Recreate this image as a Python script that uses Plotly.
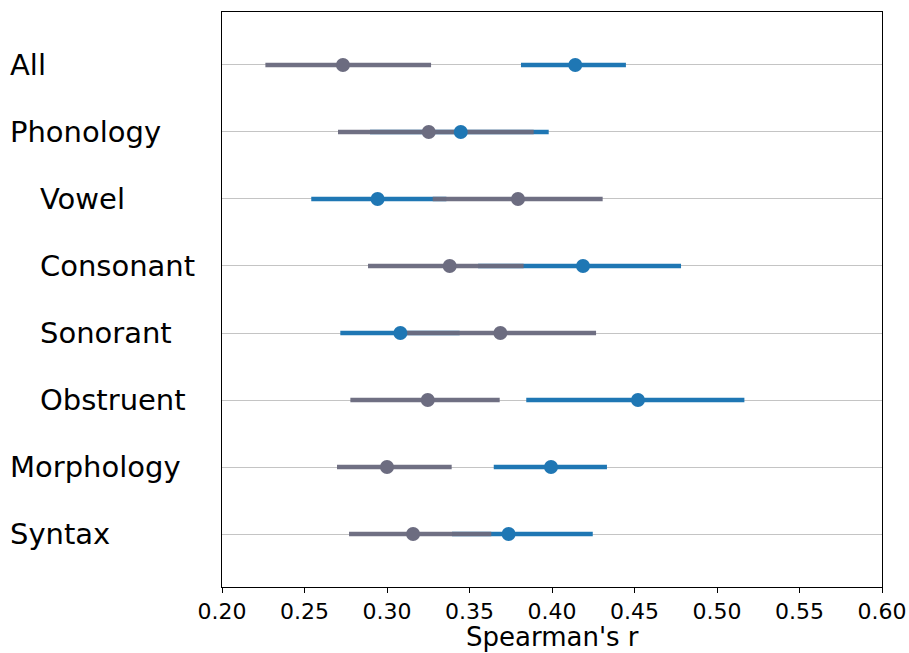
import plotly.graph_objects as go

categories = ["All", "Phonology", "Vowel", "Consonant", "Sonorant", "Obstruent", "Morphology", "Syntax"]
indent = [False, False, True, True, True, True, False, False]

gray_mean = [0.2733, 0.3253, 0.3794, 0.3380, 0.3687, 0.3247, 0.3000, 0.3158]
gray_lo = [0.2263, 0.2703, 0.3277, 0.2885, 0.3100, 0.2778, 0.2697, 0.2770]
gray_hi = [0.3267, 0.3889, 0.4307, 0.3828, 0.4267, 0.3683, 0.3392, 0.3632]

blue_mean = [0.4141, 0.3447, 0.2943, 0.4188, 0.3081, 0.4521, 0.3994, 0.3737]
blue_lo = [0.3812, 0.2897, 0.2541, 0.3552, 0.2717, 0.3844, 0.3647, 0.3394]
blue_hi = [0.4448, 0.3980, 0.3360, 0.4782, 0.3440, 0.5166, 0.4333, 0.4247]

x_ticks = [0.20, 0.25, 0.30, 0.35, 0.40, 0.45, 0.50, 0.55, 0.60]
x_title = "Spearman's r"

GRAY = "#6c6c80"
BLUE = "#1f77b4"

ypos = list(range(len(categories)))


def seg(lo, hi):
    xs, ys = [], []
    for a, b, y in zip(lo, hi, ypos):
        xs += [a, b, None]
        ys += [y, y, None]
    return xs, ys


fig = go.Figure()
bx, by = seg(blue_lo, blue_hi)
gx, gy = seg(gray_lo, gray_hi)
fig.add_trace(go.Scatter(x=bx, y=by, mode="lines", line=dict(color=BLUE, width=4.5),
                         showlegend=False, hoverinfo="skip"))
fig.add_trace(go.Scatter(x=gx, y=gy, mode="lines", line=dict(color=GRAY, width=4.5),
                         opacity=0.97, showlegend=False, hoverinfo="skip"))
fig.add_trace(go.Scatter(x=blue_mean, y=ypos, mode="markers",
                         marker=dict(color=BLUE, size=14, line=dict(width=0)), showlegend=False))
fig.add_trace(go.Scatter(x=gray_mean, y=ypos, mode="markers",
                         marker=dict(color=GRAY, size=14, line=dict(width=0)), showlegend=False))

L, R, T, B = 222, 27, 12, 66
pw = 909 - L - R
ph = 653 - T - B
annotations = []
for c, ind, y in zip(categories, indent, ypos):
    px = 38 if ind else 8
    annotations.append(dict(x=(px - L) / pw, xref="paper", y=y, yref="y", text=c,
                            showarrow=False, xanchor="left", yanchor="middle",
                            font=dict(family="DejaVu Sans", size=29, color="black")))
annotations.append(dict(x=0.5, xref="paper", y=-50 / ph, yref="paper", text=x_title,
                        showarrow=False, xanchor="center", yanchor="middle", borderpad=0,
                        font=dict(family="DejaVu Sans", size=26, color="black")))

fig.update_layout(
    width=909, height=653,
    margin=dict(l=L, r=R, t=T, b=B),
    paper_bgcolor="white", plot_bgcolor="white",
    font=dict(family="DejaVu Sans", color="black"),
    annotations=annotations,
    xaxis=dict(range=[0.2, 0.6], tickvals=x_ticks, tickformat=".2f",
               tickfont=dict(size=22), ticks="outside", ticklen=5, tickcolor="black",
               showline=True, linecolor="black", linewidth=1, mirror=True,
               showgrid=False, zeroline=False, automargin=False),
    yaxis=dict(range=[7.79, -0.79], tickvals=ypos, showticklabels=False, ticks="",
               showline=True, linecolor="black", linewidth=1, mirror=True, automargin=False,
               showgrid=True, gridcolor="#c4c4c4", gridwidth=1, zeroline=False),
)

fig.write_html("out.html")
